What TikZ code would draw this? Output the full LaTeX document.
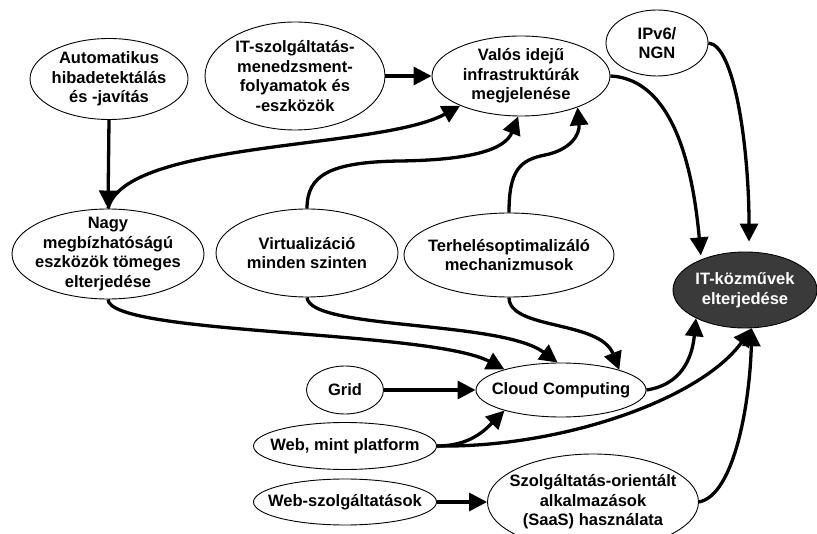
\documentclass[tikz,border=0pt]{standalone}
\usepackage{fontspec}
\setmainfont{Liberation Sans}
\usetikzlibrary{shapes.geometric,arrows.meta}
\begin{document}
\begin{tikzpicture}[x=1pt,y=1pt,
  box/.style={ellipse,draw=black,line width=0.9pt,fill=white,inner sep=0pt},
  hub/.style={ellipse,draw=black,line width=0.9pt,fill=hubgray,inner sep=0pt},
  txt/.style={font=\fontsize{16.5}{19.5}\selectfont\bfseries,align=center,inner sep=0pt},
  link/.style={line width=3.3pt,-{Triangle[length=18pt,width=18pt]}},
]
\definecolor{hubgray}{HTML}{3A3A3A}
\useasboundingbox (0,0) rectangle (817,-534);

% concept ellipses (size = width x height in px)
\node[box,minimum width=158pt,minimum height=81pt,
  label={[txt]center:Automatikus\\hibadetektálás\\és -javítás}] (auto) at (109,-79) {};
\node[box,minimum width=180pt,minimum height=108pt,
  label={[txt]center:IT-szolgáltatás-\\menedzsment-\\folyamatok és\\-eszközök}] (itsz) at (295,-76) {};
\node[box,minimum width=178pt,minimum height=80pt,
  label={[txt]center:Valós idejű\\infrastruktúrák\\megjelenése}] (valos) at (521,-76) {};
\node[box,minimum width=102pt,minimum height=66pt,
  label={[txt]center:IPv6/\\NGN}] (ipv6) at (657,-43) {};
\node[box,minimum width=192pt,minimum height=90pt,
  label={[txt]center:Nagy\\megbízhatóságú\\eszközök tömeges\\elterjedése}] (nagy) at (108,-254) {};
\node[box,minimum width=182pt,minimum height=88pt,
  label={[txt]center:Virtualizáció\\minden szinten}] (virt) at (307,-253) {};
\node[box,minimum width=210pt,minimum height=84pt,
  label={[txt]center:Terhelésoptimalizáló\\mechanizmusok}] (terh) at (509,-255) {};
\node[hub,minimum width=144pt,minimum height=76pt,
  label={[txt,text=white]center:IT-közművek\\elterjedése}] (itk) at (745,-290) {};
\node[box,minimum width=77pt,minimum height=48pt,
  label={[txt]center:Grid}] (grid) at (345,-390) {};
\node[box,minimum width=170pt,minimum height=54pt,
  label={[txt]center:Cloud Computing}] (cloud) at (561,-390) {};
\node[box,minimum width=183pt,minimum height=47pt,
  label={[txt]center:Web, mint platform}] (webp) at (345,-446) {};
\node[box,minimum width=183pt,minimum height=46pt,
  label={[txt]center:Web-szolgáltatások}] (websz) at (345,-502) {};
\node[box,minimum width=211pt,minimum height=96pt,
  label={[txt]center:Szolgáltatás-orientált\\alkalmazások\\(SaaS) használata}] (szolg) at (593,-502) {};

% connectors
\draw[link] (auto.south) -- (nagy.north);
\draw[link] (itsz.east) -- (valos.west);
\draw[link] (nagy.north) .. controls (125,-140) and (380,-150) .. (valos.206);
\draw[link] (virt.north) .. controls (307,-175) and (330,-162) .. (400,-161)
  .. controls (470,-160) and (505,-150) .. (valos.266);
\draw[link] (terh.north) .. controls (509,-170) and (520,-160) .. (545,-155)
  .. controls (570,-150) and (580,-135) .. (valos.331);
\draw[link,shorten >=4pt] (valos.east) .. controls (650,-78) and (688,-115) .. (itk.145);
\draw[link,shorten >=10pt] (ipv6.east) .. controls (735,-45) and (749,-150) .. (itk.84);
\draw[link] (nagy.south) .. controls (110,-335) and (430,-330) .. (cloud.160);
\draw[link] (virt.south) .. controls (310,-330) and (500,-320) .. (cloud.97);
\draw[link] (terh.south) .. controls (509,-330) and (600,-320) .. (cloud.19);
\draw[link] (grid.east) -- (cloud.west);
\draw[link] (webp.east) .. controls (470,-446) and (485,-430) .. (cloud.200);
\draw[link] (webp.east) .. controls (560,-448) and (700,-400) .. (itk.280);
\draw[link] (cloud.east) .. controls (680,-385) and (692,-360) .. (itk.210);
\draw[link] (websz.east) -- (szolg.west);
\draw[link] (szolg.east) .. controls (735,-495) and (750,-400) .. (itk.280);
\end{tikzpicture}
\end{document}
